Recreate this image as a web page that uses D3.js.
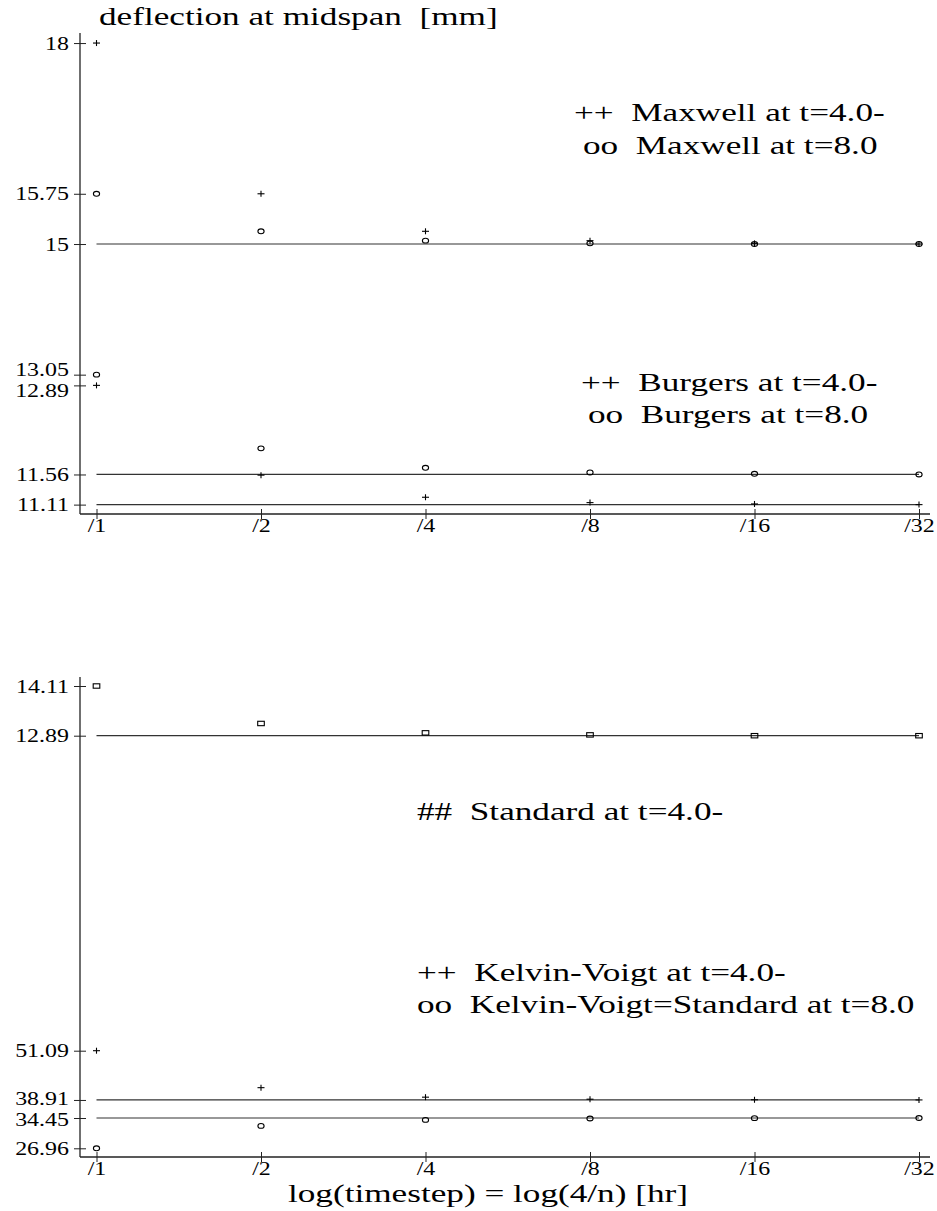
<!DOCTYPE html>
<html>
<head>
<meta charset="utf-8">
<script src="https://cdn.jsdelivr.net/npm/d3@7"></script>
<style>
  html, body { margin: 0; padding: 0; background: #fff; }
  svg { display: block; }
  text { font-family: "Liberation Serif", "Times New Roman", serif; fill: #000; white-space: pre; }
</style>
</head>
<body>
<svg id="chart" width="937" height="1211"></svg>
<script>
// time step divisor n (timestep = 4/n hours)
const steps = [1, 2, 4, 8, 16, 32];

// upper panel: Maxwell and Burgers models
const maxwellT4 = [18, 15.75, 15.19, 15.05, 15.01, 15.00];
const maxwellT8 = [15.75, 15.19, 15.05, 15.01, 15.00, 15.00];
const burgersT4 = [12.89, 11.55, 11.22, 11.14, 11.12, 11.11];
const burgersT8 = [13.05, 11.95, 11.66, 11.59, 11.57, 11.56];
const upperRefs = [15, 11.56, 11.11];
const upperTicks = [18, 15.75, 15, 13.05, 12.89, 11.56, 11.11];

// lower panel: Standard and Kelvin-Voigt models
const standardT4 = [14.11, 13.19, 12.96, 12.91, 12.89, 12.89];
const standardRefs = [12.89];
const standardTicks = [14.11, 12.89];
const kelvinT4 = [51.09, 41.95, 39.60, 39.10, 38.96, 38.92];
const kelvinT8 = [26.96, 32.50, 33.98, 34.33, 34.42, 34.45];
const kelvinRefs = [38.91, 34.45];
const kelvinTicks = [51.09, 38.91, 34.45, 26.96];

const svg = d3.select("#chart");
const axisX = 80, axisEndX = 930;
const tickFont = 19, tickWiden = 1.26;
const labelFont = 25.5, labelWiden = 1.38;

const x = d3.scaleLog().base(2).domain([1, 32]).range([96.5, 919]);

const yUpper = d3.scaleLinear().domain([10.97, 18.15]).range([514, 33]);
const yStd = d3.scaleLinear().domain([12.89, 14.11]).range([735.7, 686]);
const yKV = d3.scaleLinear().domain([26.96, 51.09]).range([1148.3, 1050.7]);

const ink = "#222";

// widen lettering horizontally while keeping its anchor point
function stretch(sel, factor) {
  sel.each(function () {
    const w = this.getComputedTextLength();
    this.setAttribute("textLength", (w * factor).toFixed(2));
    this.setAttribute("lengthAdjust", "spacingAndGlyphs");
  });
}

// nudge crowded tick labels apart vertically
function spreadLabels(g, scale, minGap) {
  const items = [];
  g.selectAll(".tick").each(function (d) { items.push({ d, node: this, y: scale(d) }); });
  items.sort((a, b) => a.y - b.y);
  const pos = items.map(it => it.y);
  for (let k = 0; k < 20; k++) {
    for (let i = 1; i < pos.length; i++) {
      const gap = pos[i] - pos[i - 1];
      if (gap < minGap) {
        const push = (minGap - gap) / 2;
        pos[i - 1] -= push; pos[i] += push;
      }
    }
  }
  items.forEach((it, i) => {
    d3.select(it.node).select("text").attr("y", pos[i] - it.y);
  });
}

function yAxis(scale, ticks) {
  const g = svg.append("g").attr("transform", `translate(${axisX},0)`)
    .call(d3.axisLeft(scale).tickValues(ticks).tickFormat(d => String(d))
      .tickSize(6).tickPadding(5));
  g.select(".domain").remove();
  g.selectAll(".tick line").attr("x1", 6).attr("stroke", ink);
  g.selectAll(".tick text").attr("font-size", tickFont)
    .style("font-family", '"Liberation Serif", serif').attr("fill", "#000");
  spreadLabels(g, scale, 21.5);
  stretch(g.selectAll(".tick text"), tickWiden);
  return g;
}

function xAxis(yPos) {
  const g = svg.append("g").attr("transform", `translate(0,${yPos})`)
    .call(d3.axisBottom(x).tickValues(steps).tickFormat(d => "/" + d)
      .tickSize(5).tickPadding(0));
  g.select(".domain").remove();
  g.selectAll(".tick line").attr("y1", -5).attr("stroke", ink);
  g.selectAll(".tick text").attr("font-size", tickFont)
    .style("font-family", '"Liberation Serif", serif').attr("fill", "#000");
  stretch(g.selectAll(".tick text"), tickWiden);
  svg.append("line").attr("x1", axisX).attr("x2", axisEndX)
    .attr("y1", yPos).attr("y2", yPos).attr("stroke", ink).attr("stroke-width", 1.3);
}

function spine(y0, y1) {
  svg.append("line").attr("x1", axisX).attr("x2", axisX)
    .attr("y1", y0).attr("y2", y1).attr("stroke", ink).attr("stroke-width", 1.3);
}

function refLines(scale, vals) {
  svg.append("g").selectAll("line").data(vals).join("line")
    .attr("x1", x(steps[0])).attr("x2", x(steps[steps.length - 1]))
    .attr("y1", d => scale(d)).attr("y2", d => scale(d))
    .attr("stroke", "#333").attr("stroke-width", 1.2);
}

function plusMarks(scale, vals) {
  const g = svg.append("g").attr("stroke", "#000").attr("stroke-width", 1.1);
  vals.forEach((v, i) => {
    const cx = x(steps[i]), cy = scale(v);
    g.append("line").attr("x1", cx - 3.5).attr("x2", cx + 3.5).attr("y1", cy).attr("y2", cy);
    g.append("line").attr("x1", cx).attr("x2", cx).attr("y1", cy - 3).attr("y2", cy + 3);
  });
}

function circleMarks(scale, vals) {
  svg.append("g").selectAll("ellipse").data(vals).join("ellipse")
    .attr("cx", (d, i) => x(steps[i])).attr("cy", d => scale(d))
    .attr("rx", 3.1).attr("ry", 2.4)
    .attr("fill", "none").attr("stroke", "#000").attr("stroke-width", 1.1);
}

function squareMarks(scale, vals) {
  svg.append("g").selectAll("rect").data(vals).join("rect")
    .attr("x", (d, i) => x(steps[i]) - 3.3).attr("y", d => scale(d) - 2.2)
    .attr("width", 6.6).attr("height", 4.4)
    .attr("fill", "none").attr("stroke", "#000").attr("stroke-width", 1.1);
}

function label(txt, lx, ly, anchor) {
  const t = svg.append("text").attr("x", lx).attr("y", ly).attr("font-size", labelFont)
    .attr("text-anchor", anchor || "start").text(txt);
  stretch(t, labelWiden);
  return t;
}

// ---- upper panel
label("deflection at midspan  [mm]", 99, 25);
spine(33, 514);
yAxis(yUpper, upperTicks);
xAxis(514);
refLines(yUpper, upperRefs);
plusMarks(yUpper, maxwellT4);
circleMarks(yUpper, maxwellT8);
plusMarks(yUpper, burgersT4);
circleMarks(yUpper, burgersT8);

label("++  Maxwell at t=4.0-", 574, 121);
label("oo  Maxwell at t=8.0", 583, 154);
label("++  Burgers at t=4.0-", 581, 391);
label("oo  Burgers at t=8.0", 588, 423);

// ---- lower panel
spine(677, 1157);
yAxis(yStd, standardTicks);
yAxis(yKV, kelvinTicks);
xAxis(1157);
refLines(yStd, standardRefs);
refLines(yKV, kelvinRefs);
squareMarks(yStd, standardT4);
plusMarks(yKV, kelvinT4);
circleMarks(yKV, kelvinT8);

label("##  Standard at t=4.0-", 417, 820);
label("++  Kelvin-Voigt at t=4.0-", 417, 981);
label("oo  Kelvin-Voigt=Standard at t=8.0", 417, 1013);

label("log(timestep) = log(4/n) [hr]", 488, 1202, "middle");
</script>
</body>
</html>
